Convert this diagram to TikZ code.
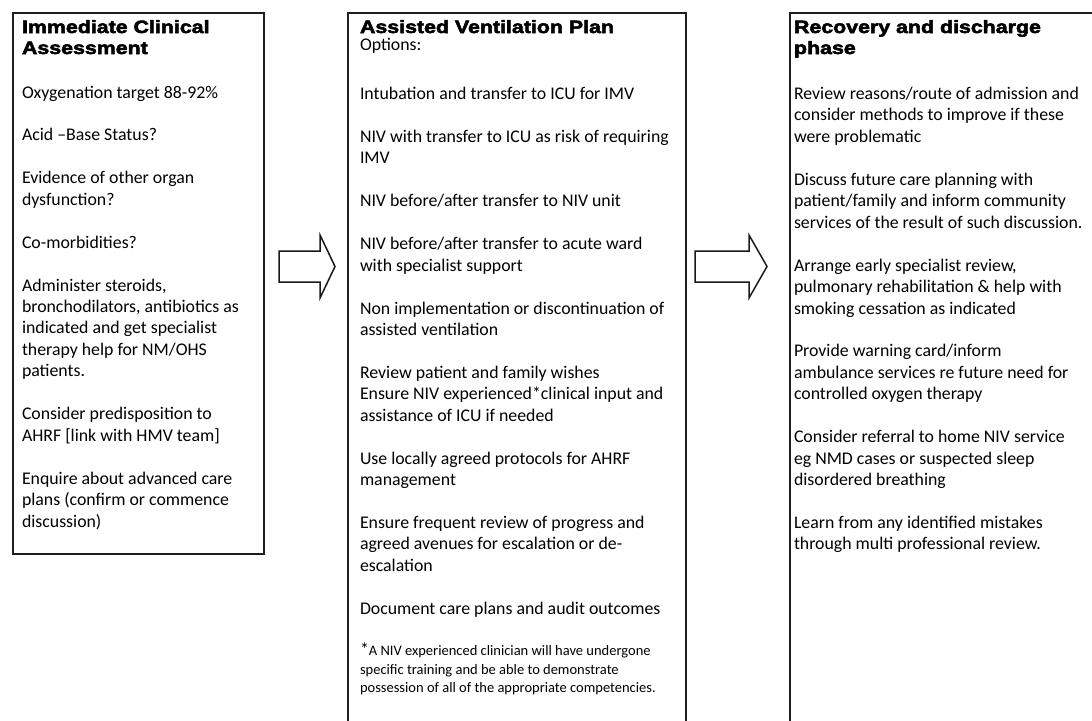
\documentclass[tikz,border=0pt]{standalone}
\usepackage{fontspec}
\setmainfont{Carlito}
\newfontfamily\titlefont{Liberation Sans}[FakeStretch=1.2,FakeBold=3]
\newcommand\bodyfont{\fontsize{17.8pt}{21.45pt}\selectfont}
\newcommand\headfont{\titlefont\bfseries\fontsize{17.8pt}{21pt}\selectfont}
\newcommand\notefont{\fontsize{14.5pt}{18.5pt}\selectfont}
\tikzset{
  box/.style={draw=black!88, line width=1.5pt, rectangle, inner sep=0pt, anchor=north west},
  txt/.style={anchor=north west, inner sep=0pt, outer sep=0pt, align=left, font=\bodyfont, text=black},
  head/.style={txt, font=\headfont},
  note/.style={txt, font=\notefont},
  blockarrow/.style={draw=black!90, line width=1.5pt, fill=white, line join=miter}
}
\begin{document}
\begin{tikzpicture}[x=1pt,y=-1pt]
\useasboundingbox (0,0) rectangle (1092,720);
\clip (0,0) rectangle (1092,720);
\fill[white] (0,0) rectangle (1092,720);
% ---------- left box ----------
\node[box, minimum width=251pt, minimum height=541pt] (assess) at (12,12) {};
\node[head] (assessT) at (22,18.3) {\strut Immediate Clinical\\Assessment};
\node[txt] (l1) at (22,83) {\strut Oxygenation target 88-92\%};
\node[txt] (l2) at (22,125.9) {\strut Acid –Base Status?};
\node[txt] (l3) at (22,168.8) {\strut Evidence of other organ\\dysfunction?};
\node[txt] (l4) at (22,233.1) {\strut Co-morbidities?};
\node[txt] (l5) at (22,276.0) {\strut Administer steroids,\\bronchodilators, antibiotics as\\indicated and get specialist\\therapy help for NM/OHS\\patients.};
\node[txt] (l6) at (22,404.7) {\strut Consider predisposition to\\AHRF [link with HMV team]};
\node[txt] (l7) at (22,469.1) {\strut Enquire about advanced care\\plans (confirm or commence\\discussion)};
% ---------- middle box ----------
\node[box, minimum width=338pt, minimum height=740pt] (plan) at (347,12) {};
\node[head] (planT) at (360,18.3) {\strut Assisted Ventilation Plan};
\node[txt] (opt) at (360,35.5) {\strut Options:};
\node[txt] (m1) at (360,84.5) {\strut Intubation and transfer to ICU for IMV};
\node[txt] (m2) at (360,127.4) {\strut NIV with transfer to ICU as risk of requiring\\IMV};
\node[txt] (m3) at (360,191.7) {\strut NIV before/after transfer to NIV unit};
\node[txt] (m4) at (360,234.6) {\strut NIV before/after transfer to acute ward\\with specialist support};
\node[txt] (m5) at (360,299.0) {\strut Non implementation or discontinuation of\\assisted ventilation};
\node[txt] (m6) at (360,363.3) {\strut Review patient and family wishes\\Ensure NIV experienced*clinical input and\\assistance of ICU if needed};
\node[txt] (m7) at (360,449.1) {\strut Use locally agreed protocols for AHRF\\management};
\node[txt] (m8) at (360,513.5) {\strut Ensure frequent review of progress and\\agreed avenues for escalation or de-\\escalation};
\node[txt] (m9) at (360,599.3) {\strut Document care plans and audit outcomes};
\node[note] (fn) at (360,643.0) {\strut{\fontsize{17.8pt}{18.5pt}\selectfont *}A NIV experienced clinician will have undergone\\specific training and be able to demonstrate\\possession of all of the appropriate competencies.};
% ---------- right box ----------
\node[box, minimum width=340pt, minimum height=740pt] (recov) at (789,12) {};
\node[head] (recovT) at (794,18.3) {\strut Recovery and discharge\\phase};
\node[txt] (r1) at (794,84.5) {\strut Review reasons/route of admission and\\consider methods to improve if these\\were problematic};
\node[txt] (r2) at (794,170.3) {\strut Discuss future care planning with\\patient/family and inform community\\services of the result of such discussion.};
\node[txt] (r3) at (794,256.1) {\strut Arrange early specialist review,\\pulmonary rehabilitation \& help with\\smoking cessation as indicated};
\node[txt] (r4) at (794,341.9) {\strut Provide warning card/inform\\ambulance services re future need for\\controlled oxygen therapy};
\node[txt] (r5) at (794,427.7) {\strut Consider referral to home NIV service\\eg NMD cases or suspected sleep\\disordered breathing};
\node[txt] (r6) at (794,513.5) {\strut Learn from any identified mistakes\\through multi professional review.};
% ---------- block arrows ----------
\draw[blockarrow] (279,251) -- (320,251) -- (320,235) -- (335,266.5) -- (320,298) -- (320,282) -- (279,282) -- cycle;
\draw[blockarrow] (695,251) -- (749,251) -- (749,235) -- (767,266.5) -- (749,298) -- (749,282) -- (695,282) -- cycle;
\end{tikzpicture}
\end{document}
